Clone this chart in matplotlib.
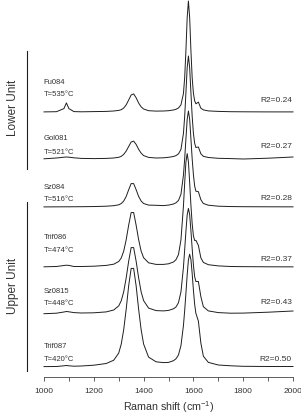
"""Stacked Raman spectra of carbonaceous material, Lower and Upper Unit."""

import numpy as np
import matplotlib
matplotlib.use('Agg')
import matplotlib.pyplot as plt
from matplotlib.lines import Line2D
from matplotlib.ticker import MultipleLocator

plt.rcParams['font.family'] = ['Liberation Sans', 'DejaVu Sans']
plt.rcParams['mathtext.default'] = 'regular'

# Raman shift grid (cm-1), denser around the D and G bands
shift = [1000, 1050, 1080, 1090, 1100, 1120, 1150, 1200, 1250,
         1280, 1300, 1310, 1320, 1330, 1340, 1350, 1360, 1370, 1380, 1390, 1400,
         1420, 1450, 1480, 1500, 1520, 1530, 1540, 1550, 1560,
         1565, 1570, 1575, 1580, 1585, 1590, 1595, 1600, 1605, 1610,
         1620, 1630, 1640, 1660, 1700, 1750, 1800, 1900, 2000]

# intensities (arbitrary units), baseline at 0
fu084 = [0.1, 0.3, 3.4, 9.1, 3.4, 0.4, 0.2, 0.4, 0.6,
         1.0, 1.6, 2.3, 3.9, 7.1, 12.0, 17.0, 18.1, 14.2, 9.0, 5.2, 3.0,
         1.3, 0.9, 1.0, 1.3, 2.0, 2.7, 4.0, 7.1, 18.5,
         34.4, 61.6, 94.4, 111.0, 94.4, 61.7, 34.6, 18.8, 11.3, 8.2,
         9.9, 3.8, 2.1, 1.1, 0.6, 0.3, 0.2, 0.1, 0.1]
gol081 = [0.2, 1.0, 1.8, 2.0, 1.8, 1.2, 0.6, 0.4, 0.6,
          1.0, 1.7, 2.6, 4.6, 7.9, 12.5, 17.0, 17.9, 14.6, 9.7, 5.9, 3.4,
          1.6, 1.0, 1.2, 1.7, 2.5, 3.4, 5.1, 9.6, 25.5,
          42.8, 66.5, 91.2, 103.0, 91.2, 66.6, 43.0, 25.8, 15.8, 11.5,
          12.0, 5.2, 2.7, 1.5, 0.7, 0.4, 0.0, 0.8, 2.0]
sz084 = [0.1, 0.15, 0.2, 0.2, 0.2, 0.25, 0.3, 0.45, 0.8,
         1.3, 2.2, 3.4, 5.9, 10.5, 17.2, 23.4, 23.4, 17.3, 10.6, 6.0, 3.5,
         1.9, 1.7, 1.4, 1.9, 3.0, 4.2, 6.5, 12.7, 31.9,
         48.1, 68.3, 87.7, 96.0, 87.8, 68.5, 48.4, 32.4, 21.1, 15.8,
         15.3, 7.3, 3.5, 1.8, 0.8, 0.45, 0.3, 0.2, 0.15]
trif086 = [0.2, 0.5, 1.5, 1.8, 1.6, 0.5, 0.5, 0.8, 1.6,
           2.8, 5.5, 8.9, 15.7, 27.2, 41.8, 54.4, 54.5, 41.8, 27.4, 16.0, 9.3,
           4.2, 2.6, 2.6, 3.2, 5.0, 7.3, 12.4, 27.1, 60.9,
           84.0, 104.9, 113.4, 105.2, 84.5, 61.9, 43.5, 31.3, 26.5, 26.7,
           21.6, 9.1, 4.6, 2.3, 1.1, 0.5, 0.35, 0.2, 0.15]
sz0815 = [0.3, 0.8, 2.0, 2.5, 2.2, 1.4, 1.0, 1.2, 2.1,
          4.0, 8.1, 13.1, 22.1, 36.0, 52.7, 66.4, 66.4, 52.8, 36.2, 22.3, 13.4,
          5.9, 3.4, 3.1, 3.6, 5.2, 7.0, 11.3, 22.1, 46.7,
          64.5, 82.8, 99.1, 105.6, 99.5, 83.5, 65.7, 49.1, 37.4, 32.5,
          32.5, 17.3, 7.3, 3.1, 1.4, 0.8, 0.9, 1.8, 3.0]
trif087 = [0.4, 0.5, 1.2, 1.5, 1.2, 0.8, 1.0, 1.8, 3.5,
           6.8, 13.9, 22.7, 37.2, 57.6, 81.1, 98.6, 98.6, 81.2, 57.8, 37.5, 23.0,
           9.9, 5.2, 4.4, 4.6, 6.3, 8.2, 12.0, 21.4, 41.5,
           56.5, 74.0, 92.0, 107.1, 112.8, 107.6, 93.7, 77.0, 62.7, 53.7,
           45.9, 23.9, 10.8, 4.6, 2.0, 1.2, 0.7, 0.5, 0.5]

spectra = [fu084, gol081, sz084, trif086, sz0815, trif087]
names = ['Fu084', 'Gol081', 'Sz084', 'Trif086', 'Sz0815', 'Trif087']
temps = [535, 521, 516, 474, 448, 420]
r2 = [0.24, 0.27, 0.28, 0.37, 0.43, 0.50]
offsets = [265, 218, 170, 110, 63, 10]

# label heights (same units as the stacked spectra)
name_y = [296, 240, 190, 140, 86, 31]
temp_y = [283, 226, 178, 127, 74, 18]
r2_y = [278, 231, 179, 118, 75, 18]

W, H = 301, 414
fig = plt.figure(figsize=(W / 100, H / 100), dpi=100)
ax = fig.add_axes([44 / W, 1 - 378 / H, 249 / W, 378 / H])
ax.patch.set_alpha(0)

line_col = '#1e1e1e'
text_col = '#333333'

for spec, off in zip(spectra, offsets):
    ax.plot(shift, np.array(spec) + off, color=line_col, lw=0.7, clip_on=False)

for i in range(len(names)):
    ax.text(998, name_y[i], names[i], fontsize=5.5, color=text_col, va='center', ha='left')
    ax.text(998, temp_y[i], 'T={}°C'.format(temps[i]), fontsize=5.5, color=text_col,
            va='center', ha='left')
    ax.text(1995, r2_y[i], 'R2={:.2f}'.format(r2[i]), fontsize=6, color=text_col,
            va='center', ha='right')

ax.set_xlim(1000, 2000)
ax.set_ylim(0, 378)
for side in ['left', 'right', 'top']:
    ax.spines[side].set_visible(False)
ax.spines['bottom'].set_linewidth(0.6)
ax.spines['bottom'].set_color('#444444')
ax.set_yticks([])
ax.xaxis.set_major_locator(MultipleLocator(200))
ax.xaxis.set_minor_locator(MultipleLocator(100))
ax.tick_params(axis='x', which='both', length=3, width=0.6, color='#444444',
               labelsize=6, labelcolor=text_col, pad=4)
ax.set_xlabel('Raman shift (cm$^{-1}$)', fontsize=7.7, color=text_col, labelpad=3)

# unit brackets on the left
fig.add_artist(Line2D([27 / W, 27 / W], [1 - 52 / H, 1 - 170 / H], color=line_col, lw=0.8))
fig.add_artist(Line2D([27 / W, 27 / W], [1 - 203 / H, 1 - 372 / H], color=line_col, lw=0.8))
fig.text(13 / W, 1 - 108 / H, 'Lower Unit', rotation=90, fontsize=8.5, color=text_col,
         ha='center', va='center')
fig.text(13 / W, 1 - 286 / H, 'Upper Unit', rotation=90, fontsize=8.5, color=text_col,
         ha='center', va='center')

fig.savefig('out.png', dpi=100)
